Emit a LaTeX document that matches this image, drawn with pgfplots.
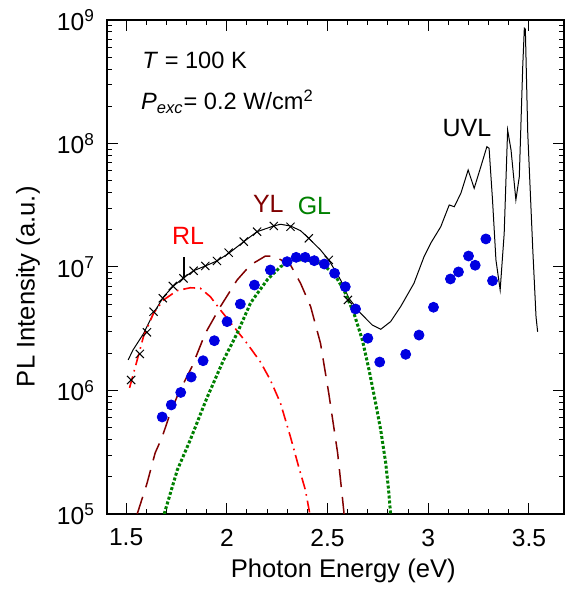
\documentclass[border=0pt]{standalone}
\usepackage{fontspec}
\setmainfont{Liberation Sans}
\usepackage{pgfplots}
\pgfplotsset{compat=1.18}
\definecolor{rlred}{RGB}{255,0,0}
\definecolor{ylbrown}{RGB}{128,0,0}
\definecolor{glgreen}{RGB}{0,128,0}
\definecolor{dotblue}{RGB}{0,0,225}
\begin{document}
\begin{tikzpicture}
\begin{axis}[
  scale only axis, width=228.5pt, height=247pt,
  ymode=log, xmin=1.405, xmax=3.674, ymin=1e5, ymax=1e9,
  xtick={1.5,2,2.5,3,3.5}, xticklabels={1.5,2,2.5,3,3.5},
  minor x tick num=4,
  ytick={1e5,1e6,1e7,1e8,1e9},
  yticklabels={10\textsuperscript{5},10\textsuperscript{6},10\textsuperscript{7},10\textsuperscript{8},10\textsuperscript{9}},
  minor ytick={2e5,3e5,4e5,5e5,6e5,7e5,8e5,9e5,2e6,3e6,4e6,5e6,6e6,7e6,8e6,9e6,2e7,3e7,4e7,5e7,6e7,7e7,8e7,9e7,2e8,3e8,4e8,5e8,6e8,7e8,8e8,9e8},
  tick align=inside,
  major tick length=5.5pt, minor tick length=2.5pt,
  every tick/.style={black, line width=0.5pt},
  axis line style={black, line width=0.6pt},
  ticklabel style={font=\fontsize{12.3}{14}\selectfont},
  xticklabel style={yshift=-4pt},
  yticklabel style={xshift=-2.5pt},
  xlabel={Photon Energy (eV)}, ylabel={PL Intensity (a.u.)},
  every axis x label/.style={at={(axis description cs:0.517,-0.115)}, anchor=center, font=\fontsize{12.8}{15}\selectfont},
  every axis y label/.style={at={(axis description cs:-0.173,0.46)}, anchor=center, rotate=90, font=\fontsize{12.8}{15}\selectfont},
]
% measured spectrum
\addplot[black, line width=0.5pt, mark=none] table {
1.510 1.77e6
1.535 2.14e6
1.586 2.88e6
1.636 4.22e6
1.686 5.75e6
1.735 7.01e6
1.785 8.18e6
1.835 9.33e6
1.893 1.019e7
1.951 1.12e7
2.009 1.288e7
2.084 1.603e7
2.150 1.932e7
2.233 2.148e7
2.266 2.218e7
2.316 2.148e7
2.366 1.968e7
2.407 1.706e7
2.465 1.374e7
2.506 1.140e7
2.565 7.85e6
2.606 5.58e6
2.664 4.22e6
2.722 3.39e6
2.764 3.13e6
2.813 3.61e6
2.863 4.78e6
2.929 7.38e6
2.979 1.211e7
3.012 1.556e7
3.062 2.118e7
3.104 3.177e7
3.129 3.076e7
3.162 3.954e7
3.198 6.10e7
3.228 4.34e7
3.261 6.49e7
3.291 9.42e7
3.302 9.14e7
3.319 3.49e7
3.336 1.14e7
3.357 6.52e6
3.377 1.875e7
3.394 1.285e8
3.411 8.85e7
3.435 3.49e7
3.452 5.38e7
3.469 4.19e8
3.477 8.57e8
3.482 8.41e8
3.494 1.208e8
3.519 1.374e7
3.535 3.96e6
3.543 2.99e6
};
% fit sum (crosses)
\addplot[only marks, mark=x, mark size=2.9pt, black, line width=0.5pt] table {
1.525 1.216e6
1.568 1.977e6
1.603 2.958e6
1.636 4.345e6
1.682 5.585e6
1.732 7.015e6
1.785 8.09e6
1.835 9.33e6
1.893 1.019e7
1.951 1.119e7
2.009 1.306e7
2.084 1.603e7
2.150 1.932e7
2.233 2.148e7
2.316 2.118e7
2.407 1.706e7
2.506 1.140e7
2.601 5.41e6
};
% RL
\addplot[rlred, line width=0.8pt, dash pattern=on 6pt off 2.5pt on 0.8pt off 2.5pt] table {
1.517 1.05e6
1.555 1.77e6
1.586 2.73e6
1.636 4.22e6
1.686 5.41e6
1.752 6.43e6
1.818 6.79e6
1.868 6.73e6
1.918 5.75e6
1.968 4.49e6
2.034 3.29e6
2.100 2.41e6
2.167 1.70e6
2.216 1.216e6
2.266 7.93e5
2.316 4.20e5
2.357 2.40e5
2.390 1.563e5
2.412 1.0e5
};
% YL
\addplot[ylbrown, line width=0.75pt, dash pattern=on 9pt off 5pt] table {
1.555 1.0e5
1.604 1.78e5
1.644 3.12e5
1.679 4.20e5
1.719 6.58e5
1.760 9.49e5
1.827 1.56e6
1.893 2.90e6
1.968 4.78e6
2.051 7.85e6
2.117 1.038e7
2.192 1.227e7
2.233 1.227e7
2.316 1.038e7
2.366 7.38e6
2.416 4.78e6
2.465 2.41e6
2.506 9.49e5
2.550 3.12e5
2.575 1.30e5
2.582 1.0e5
};
% GL
\addplot[glgreen, line width=1.5pt, dash pattern=on 1.5pt off 1pt] table {
1.689 1.0e5
1.754 2.27e5
1.818 3.97e5
1.883 7.35e5
1.903 8.85e5
1.984 1.77e6
2.051 2.90e6
2.117 5.08e6
2.134 5.58e6
2.200 7.85e6
2.266 1.005e7
2.333 1.140e7
2.399 1.140e7
2.465 1.072e7
2.531 8.89e6
2.581 6.52e6
2.631 4.22e6
2.673 2.56e6
2.706 1.466e6
2.739 7.87e5
2.764 4.79e5
2.789 2.57e5
2.803 1.563e5
2.813 1.0e5
};
% blue dots
\addplot[only marks, mark=*, mark size=2.5pt, color=dotblue, mark options={fill=dotblue, draw=dotblue}] table {
1.679 6.10e5
1.724 7.64e5
1.771 9.64e5
1.823 1.285e6
1.882 1.742e6
1.938 2.53e6
2.001 3.61e6
2.067 5.01e6
2.137 7.14e6
2.216 9.46e6
2.299 1.104e7
2.344 1.197e7
2.389 1.197e7
2.434 1.125e7
2.484 1.057e7
2.535 8.89e6
2.588 6.92e6
2.639 4.57e6
2.700 2.65e6
2.759 1.70e6
2.888 1.963e6
2.954 2.81e6
3.026 4.72e6
3.110 8.00e6
3.150 9.12e6
3.200 1.227e7
3.233 1.033e7
3.286 1.687e7
3.319 7.74e6
};
\draw[black, line width=0.6pt] (axis cs:1.787,1.2e7) -- (axis cs:1.787,8.2e6);
\node[rlred, font=\fontsize{12.5}{14}\selectfont] at (axis cs:1.808,1.78e7) {RL};
\node[ylbrown, font=\fontsize{12.5}{14}\selectfont] at (axis cs:2.206,3.24e7) {YL};
\node[glgreen, font=\fontsize{12.5}{14}\selectfont] at (axis cs:2.435,3.12e7) {GL};
\node[black, font=\fontsize{12.5}{14}\selectfont] at (axis cs:3.192,1.337e8) {UVL};
\node[anchor=base west, inner sep=0pt, font=\fontsize{11.8}{14}\selectfont] at (axis description cs:0.0766,0.902) {\textit{T} = 100 K};
\node[anchor=base west, inner sep=0pt, font=\fontsize{11.8}{14}\selectfont] at (axis description cs:0.074,0.818) {\textit{P}\textsubscript{\textit{exc}}= 0.2 W/cm\textsuperscript{2}};
\end{axis}
\path ([xshift=-53.5pt,yshift=-38pt]current axis.south west) rectangle ([yshift=10pt]current axis.north east);
\end{tikzpicture}
\end{document}
